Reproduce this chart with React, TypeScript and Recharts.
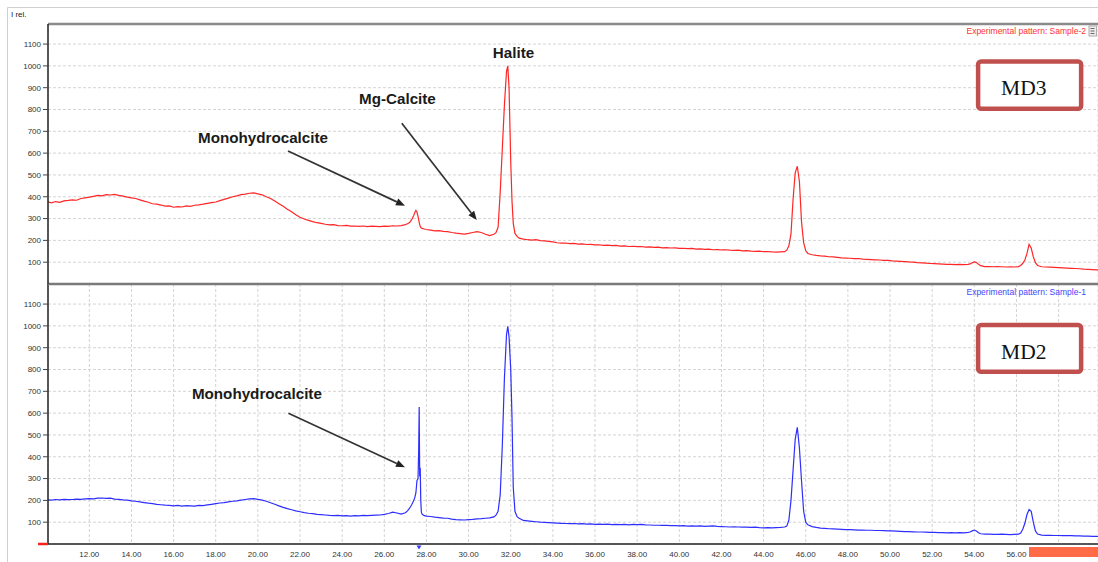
import React from 'react';
import { LineChart, Line, XAxis, YAxis, CartesianGrid, ReferenceLine, ReferenceArea, ReferenceDot } from 'recharts';

// 2-theta (deg) and relative intensity
const md3Pattern: [number, number][] = [
  [10.0,377],[10.2,372],[10.4,378],[10.6,374],[10.8,381],[11.0,383],[11.2,386],[11.4,384],[11.6,392],[11.8,395],
  [12.0,398],[12.2,402],[12.4,406],[12.6,404],[12.8,410],[13.0,408],[13.2,411],[13.4,406],[13.6,403],[13.8,398],
  [14.0,395],[14.2,392],[14.4,386],[14.6,380],[14.8,375],[15.0,368],[15.2,366],[15.4,362],[15.6,357],[15.8,358],
  [16.0,352],[16.2,355],[16.4,353],[16.6,358],[16.8,356],[17.0,361],[17.2,363],[17.4,366],[17.6,370],[17.8,373],
  [18.0,376],[18.2,382],[18.4,388],[18.6,394],[18.8,400],[19.0,404],[19.2,410],[19.4,412],[19.6,416],[19.8,418],
  [20.0,413],[20.2,409],[20.4,400],[20.6,392],[20.8,380],[21.0,368],[21.2,356],[21.4,343],[21.6,331],[21.8,318],
  [22.0,306],[22.2,298],[22.4,292],[22.6,286],[22.8,281],[23.0,278],[23.2,274],[23.4,271],[23.6,272],[23.8,268],
  [24.0,267],[24.2,269],[24.4,265],[24.6,266],[24.8,264],[25.0,266],[25.2,263],[25.4,265],[25.6,264],[25.8,263],
  [26.0,265],[26.2,264],[26.4,267],[26.6,266],[26.8,268],[27.0,272],
  [27.1,276],[27.2,282],[27.3,295],[27.4,315],[27.45,328],[27.5,337],[27.55,330],[27.6,310],[27.64,290],[27.67,276],
  [27.7,266],[27.73,260],[27.76,257],[27.8,255],[27.9,252],[28.0,250],
  [28.2,247],[28.4,244],[28.6,245],[28.8,241],[29.0,240],[29.2,236],[29.4,233],[29.6,231],[29.8,229],[30.0,232],
  [30.2,236],[30.4,240],[30.6,236],[30.8,228],[31.0,222],[31.2,228],
  [31.3,235],[31.4,260],[31.5,420],[31.6,620],[31.7,820],[31.8,975],[31.86,1000],[31.92,900],[32.0,560],[32.06,380],
  [32.12,278],[32.2,232],[32.3,218],[32.4,210],
  [32.6,206],[32.8,203],[33.0,201],[33.2,203],[33.4,199],[33.6,198],[33.8,195],[34.0,193],[34.2,189],[34.4,187],
  [34.6,188],[34.8,185],[35.0,186],[35.2,183],[35.4,184],[35.6,181],[35.8,182],[36.0,179],[36.2,180],[36.4,177],
  [36.6,178],[36.8,176],[37.0,177],[37.2,174],[37.4,175],[37.6,172],[37.8,173],[38.0,171],[38.2,172],[38.4,169],
  [38.6,170],[38.8,168],[39.0,169],[39.2,166],[39.4,167],[39.6,165],[39.8,166],[40.0,163],[40.2,164],[40.4,162],
  [40.6,163],[40.8,160],[41.0,161],[41.2,159],[41.4,160],[41.6,157],[41.8,158],[42.0,156],[42.2,157],[42.4,155],
  [42.6,154],[42.8,155],[43.0,152],[43.2,153],[43.4,151],[43.6,150],[43.8,151],[44.0,148],[44.2,149],[44.4,147],
  [44.6,146],[44.8,147],[45.0,148],
  [45.1,155],[45.2,175],[45.3,230],[45.4,390],[45.5,510],[45.6,540],[45.7,470],[45.8,285],[45.9,190],[46.0,152],[46.1,140],
  [46.3,134],[46.5,131],[46.7,129],[46.9,128],[47.1,125],[47.3,124],[47.5,122],[47.7,120],[47.9,119],[48.1,118],
  [48.3,116],[48.5,117],[48.7,114],[48.9,113],[49.1,112],[49.3,111],[49.5,110],[49.7,108],[49.9,108],[50.1,106],
  [50.3,105],[50.5,104],[50.7,103],[50.9,101],[51.1,100],[51.3,98],[51.5,97],[51.7,96],[51.9,94],[52.1,93],
  [52.3,92],[52.5,91],[52.7,90],[52.9,90],[53.1,89],[53.3,90],[53.5,89],[53.7,90],
  [53.8,92],[53.9,97],[54.0,101],[54.1,98],[54.2,90],[54.3,84],
  [54.5,80],[54.7,80],[54.9,79],[55.1,80],[55.3,79],[55.5,78],[55.7,79],[55.9,78],[56.1,80],
  [56.2,85],[56.3,95],[56.4,110],[56.5,140],[56.6,182],[56.7,165],[56.8,125],[56.9,98],[57.0,85],
  [57.2,79],[57.4,78],[57.6,77],[57.8,76],[58.0,75],[58.2,74],[58.4,73],[58.6,72],[58.8,71],[59.0,70],
  [59.2,68],[59.4,67],[59.6,66],[59.8,65],[59.9,64],
];

const md2Pattern: [number, number][] = [
  [10.0,203],[10.2,201],[10.4,204],[10.6,202],[10.8,205],[11.0,203],[11.2,204],[11.4,206],[11.6,205],[11.8,207],
  [12.0,208],[12.2,207],[12.4,210],[12.6,211],[12.8,209],[13.0,210],[13.2,206],[13.4,205],[13.6,202],[13.8,201],
  [14.0,198],[14.2,196],[14.4,193],[14.6,190],[14.8,187],[15.0,185],[15.2,182],[15.4,180],[15.6,178],[15.8,177],
  [16.0,175],[16.2,177],[16.4,174],[16.6,176],[16.8,175],[17.0,174],[17.2,177],[17.4,176],[17.6,179],[17.8,182],
  [18.0,185],[18.2,188],[18.4,190],[18.6,193],[18.8,196],[19.0,198],[19.2,201],[19.4,204],[19.6,207],[19.8,208],
  [20.0,205],[20.2,201],[20.4,196],[20.6,189],[20.8,182],[21.0,175],[21.2,168],[21.4,162],[21.6,157],[21.8,152],
  [22.0,148],[22.2,144],[22.4,141],[22.6,139],[22.8,136],[23.0,135],[23.2,133],[23.4,131],[23.6,130],[23.8,131],
  [24.0,129],[24.2,130],[24.4,128],[24.6,130],[24.8,129],[25.0,131],[25.2,130],[25.4,131],[25.6,132],[25.8,133],
  [26.0,136],[26.2,140],[26.4,146],[26.6,142],[26.8,137],[27.0,143],
  [27.1,152],[27.2,164],[27.3,180],[27.4,200],[27.45,214],[27.5,235],[27.55,290],[27.6,300],[27.63,420],[27.655,628],
  [27.68,310],[27.705,350],[27.73,200],[27.76,145],[27.8,136],[27.9,130],[28.0,128],
  [28.2,126],[28.4,123],[28.6,121],[28.8,119],[29.0,118],[29.2,114],[29.4,112],[29.6,111],[29.8,110],[30.0,112],
  [30.2,113],[30.4,115],[30.6,116],[30.8,118],[31.0,120],[31.2,124],
  [31.3,132],[31.4,150],[31.5,225],[31.6,450],[31.7,760],[31.8,960],[31.86,998],[31.92,950],[32.0,800],[32.06,580],
  [32.12,260],[32.2,150],[32.3,125],[32.4,118],
  [32.6,108],[32.8,106],[33.0,104],[33.2,102],[33.4,100],[33.6,99],[33.8,98],[34.0,97],[34.2,96],[34.4,95],
  [34.6,94],[34.8,93],[35.0,94],[35.2,92],[35.4,93],[35.6,91],[35.8,92],[36.0,90],[36.2,91],[36.4,90],
  [36.6,91],[36.8,89],[37.0,90],[37.2,89],[37.4,90],[37.6,88],[37.8,90],[38.0,89],[38.2,90],[38.4,88],
  [38.6,87],[38.8,86],[39.0,86],[39.2,85],[39.4,85],[39.6,84],[39.8,84],[40.0,83],[40.2,84],[40.4,82],
  [40.6,83],[40.8,82],[41.0,83],[41.2,81],[41.4,82],[41.6,83],[41.8,81],[42.0,80],[42.2,79],[42.4,78],
  [42.6,79],[42.8,78],[43.0,77],[43.2,77],[43.4,76],[43.6,77],[43.8,75],[44.0,74],[44.2,75],[44.4,74],
  [44.6,75],[44.8,76],[45.0,78],
  [45.1,82],[45.2,110],[45.3,200],[45.4,340],[45.5,480],[45.6,535],[45.7,440],[45.8,290],[45.9,150],[46.0,100],[46.1,88],
  [46.3,80],[46.5,76],[46.7,73],[46.9,72],[47.1,70],[47.3,69],[47.5,68],[47.7,67],[47.9,66],[48.1,66],
  [48.3,65],[48.5,64],[48.7,64],[48.9,63],[49.1,63],[49.3,62],[49.5,62],[49.7,61],[49.9,60],[50.1,60],
  [50.3,59],[50.5,58],[50.7,57],[50.9,57],[51.1,56],[51.3,55],[51.5,55],[51.7,54],[51.9,53],[52.1,53],
  [52.3,52],[52.5,52],[52.7,51],[52.9,52],[53.1,51],[53.3,52],[53.5,51],[53.7,53],
  [53.8,55],[53.9,60],[54.0,64],[54.1,60],[54.2,52],[54.3,47],
  [54.5,45],[54.7,45],[54.9,44],[55.1,44],[55.3,45],[55.5,44],[55.7,43],[55.9,44],[56.1,45],
  [56.2,50],[56.3,68],[56.4,95],[56.5,135],[56.6,158],[56.7,150],[56.8,100],[56.9,60],[57.0,46],
  [57.2,41],[57.4,40],[57.6,40],[57.8,39],[58.0,39],[58.2,38],[58.4,38],[58.6,38],[58.8,37],[59.0,37],
  [59.2,36],[59.4,36],[59.6,35],[59.8,35],[59.9,34],
];

const xTicks = [12, 14, 16, 18, 20, 22, 24, 26, 28, 30, 32, 34, 36, 38, 40, 42, 44, 46, 48, 50, 52, 54, 56, 58];
const yTicks = [100, 200, 300, 400, 500, 600, 700, 800, 900, 1000, 1100];
const xDomain: [number, number] = [10.04, 59.87];
const yDomain: [number, number] = [0, 1192];

const md3Labels = [
  { text: 'Halite', x: 31.15, y: 1036 },
  { text: 'Mg-Calcite', x: 24.8, y: 825 },
  { text: 'Monohydrocalcite', x: 17.16, y: 648 },
];
const md3Arrows = [
  { x1: 21.43, y1: 610, x2: 26.98, y2: 359 },
  { x1: 26.83, y1: 737, x2: 30.39, y2: 293 },
];
const md2Labels = [{ text: 'Monohydrocalcite', x: 16.87, y: 665 }];
const md2Arrows = [{ x1: 21.45, y1: 599, x2: 26.98, y2: 352 }];

const md3Box = { name: 'MD3', x1: 54.18, x2: 59.07, y1: 803, y2: 1020 };
const md2Box = { name: 'MD2', x1: 54.18, x2: 59.07, y1: 790, y2: 1004 };

const FONT = '"Liberation Sans", Arial, Helvetica, sans-serif';
const RED = '#ff2626';
const BLUE = '#2e2eff';

const toRows = (p: [number, number][]) => p.map(([a, i]) => ({ angle: a, intensity: i }));
const md3Data = toRows(md3Pattern);
const md2Data = toRows(md2Pattern);

const Arrow = (p: any) => {
  const { x1, y1, x2, y2 } = p;
  const ang = Math.atan2(y2 - y1, x2 - x1);
  const L = 9;
  const W = 3.6;
  const bx = x2 - L * Math.cos(ang);
  const by = y2 - L * Math.sin(ang);
  const pts = `${x2},${y2} ${bx - W * Math.sin(ang)},${by + W * Math.cos(ang)} ${bx + W * Math.sin(ang)},${by - W * Math.cos(ang)}`;
  return (
    <g>
      <line x1={x1} y1={y1} x2={bx} y2={by} stroke="#333" strokeWidth={1.7} />
      <polygon points={pts} fill="#222" />
    </g>
  );
};

const labelShape = (text: string) => (p: any) => (
  <text x={p.cx} y={p.cy} fontFamily={FONT} fontWeight="bold" fontSize={15.2} fill="#1a1a1a">
    {text}
  </text>
);

const boxShape = (name: string) => (p: any) => (
  <g>
    <rect x={p.x} y={p.y} width={p.width} height={p.height} rx={3} ry={3} fill="#fff" stroke="#c0504d" strokeWidth={4.5} />
    <text x={p.x + 23} y={p.y + 33.5} fontFamily='"Liberation Serif", "Times New Roman", serif' fontSize={21.5} fill="#111">
      {name}
    </text>
  </g>
);

const yAxisProps = {
  type: 'number' as const,
  domain: yDomain,
  ticks: yTicks,
  allowDataOverflow: true,
  width: 48,
  tickSize: 5,
  tickMargin: 2,
  interval: 0 as const,
  tick: { fontSize: 8, fill: '#333', fontFamily: FONT },
  tickLine: { stroke: '#444' },
  axisLine: { stroke: '#222', strokeWidth: 1.5 },
};

const gridProps = { stroke: '#d4d4d4', strokeDasharray: '3 2' };

export default function App() {
  return (
    <div style={{ position: 'absolute', left: 0, top: 0, width: 1098, height: 562, background: '#fff', overflow: 'hidden' }}>
      {/* bottom panel: MD2 */}
      <div style={{ position: 'absolute', left: 0, top: 0 }}>
        <LineChart width={1098} height={562} data={md2Data} margin={{ top: 284, right: 0, bottom: 0, left: 0 }}>
          <CartesianGrid {...gridProps} />
          <XAxis
            dataKey="angle"
            type="number"
            domain={xDomain}
            ticks={xTicks}
            interval={0}
            allowDataOverflow
            height={18}
            tickLine={false}
            tickSize={0}
            tickMargin={7}
            tickFormatter={(v: number) => v.toFixed(2)}
            tick={{ fontSize: 8, fill: '#333', fontFamily: FONT }}
            axisLine={{ stroke: '#222', strokeWidth: 1.5 }}
          />
          <YAxis {...yAxisProps} />
          <Line dataKey="intensity" stroke={BLUE} strokeWidth={1.2} dot={false} isAnimationActive={false} />
          {md2Arrows.map((a, i) => (
            <ReferenceLine key={'a' + i} segment={[{ x: a.x1, y: a.y1 }, { x: a.x2, y: a.y2 }]} shape={Arrow} ifOverflow="visible" />
          ))}
          {md2Labels.map((l, i) => (
            <ReferenceDot key={'l' + i} x={l.x} y={l.y} r={0} shape={labelShape(l.text)} ifOverflow="visible" />
          ))}
          <ReferenceArea x1={md2Box.x1} x2={md2Box.x2} y1={md2Box.y1} y2={md2Box.y2} shape={boxShape(md2Box.name)} ifOverflow="visible" />
        </LineChart>
      </div>
      {/* top panel: MD3 */}
      <div style={{ position: 'absolute', left: 0, top: 0 }}>
        <LineChart width={1098} height={290} data={md3Data} margin={{ top: 24, right: 0, bottom: 4, left: 0 }}>
          <CartesianGrid {...gridProps} />
          <XAxis
            dataKey="angle"
            type="number"
            domain={xDomain}
            ticks={xTicks}
            interval={0}
            allowDataOverflow
            height={2}
            tick={false}
            tickLine={false}
            axisLine={{ stroke: '#7a7a7a', strokeWidth: 2.5 }}
          />
          <YAxis {...yAxisProps} />
          <ReferenceLine y={yDomain[1]} stroke="#8a8a8a" strokeWidth={2.5} ifOverflow="visible" />
          <Line dataKey="intensity" stroke={RED} strokeWidth={1.2} dot={false} isAnimationActive={false} />
          {md3Arrows.map((a, i) => (
            <ReferenceLine key={'a' + i} segment={[{ x: a.x1, y: a.y1 }, { x: a.x2, y: a.y2 }]} shape={Arrow} ifOverflow="visible" />
          ))}
          {md3Labels.map((l, i) => (
            <ReferenceDot key={'l' + i} x={l.x} y={l.y} r={0} shape={labelShape(l.text)} ifOverflow="visible" />
          ))}
          <ReferenceArea x1={md3Box.x1} x2={md3Box.x2} y1={md3Box.y1} y2={md3Box.y2} shape={boxShape(md3Box.name)} ifOverflow="visible" />
        </LineChart>
      </div>
      {/* frame decorations */}
      <svg width={1098} height={562} style={{ position: 'absolute', left: 0, top: 0, pointerEvents: 'none' }}>
        <path d="M7.5 562 V7.5 H1098" stroke="#d0d0d0" strokeWidth={1} fill="none" />
        <text x={11} y={16.5} fontFamily={FONT} fontSize={8} fill="#222">I rel.</text>
        <text x={1086} y={34} textAnchor="end" fontFamily={FONT} fontSize={8.5} fill="#ff3030">Experimental pattern: Sample-2</text>
        <rect x={1089} y={26} width={7.5} height={10} fill="#eee" stroke="#999" strokeWidth={0.8} />
        <line x1={1090.5} y1={28.5} x2={1094.5} y2={28.5} stroke="#666" strokeWidth={1} />
        <line x1={1090.5} y1={31} x2={1094.5} y2={31} stroke="#666" strokeWidth={1} />
        <line x1={1090.5} y1={33.5} x2={1094.5} y2={33.5} stroke="#666" strokeWidth={1} />
        <text x={1086} y={295} textAnchor="end" fontFamily={FONT} fontSize={8.5} fill="#4545ff">Experimental pattern: Sample-1</text>
        <line x1={38} y1={544} x2={48} y2={544} stroke="#ff2020" strokeWidth={2.5} />
        <polygon points="416.5,545.5 421.5,545.5 419,549.5" fill="#3a3aff" />
        <rect x={1029} y={547} width={69} height={10} fill="#ff6b47" />
      </svg>
    </div>
  );
}
